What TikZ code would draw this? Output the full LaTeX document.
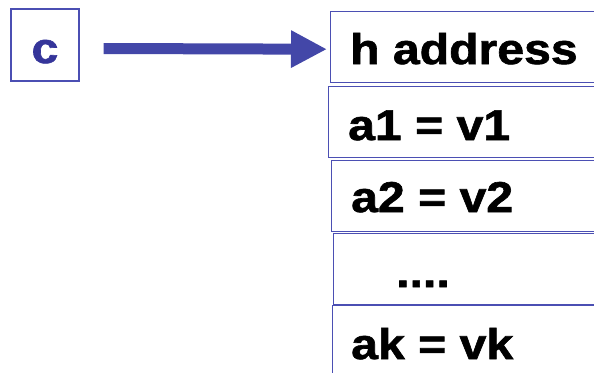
\documentclass[tikz,border=0pt]{standalone}
\usepackage{fontspec}
\usetikzlibrary{arrows.meta}
\newfontfamily\boxfont{Liberation Sans}[FakeStretch=1.12, BoldFeatures={FakeBold=1.5}]
\definecolor{frameblue}{HTML}{4B4FB3}
\definecolor{arrowblue}{HTML}{4347A8}
\definecolor{letterblue}{HTML}{35359A}
\tikzset{
  cell/.style={draw=frameblue, line width=1.4pt, anchor=north west,
    minimum width=320pt, minimum height=71pt, inner sep=0pt},
  entry/.style={anchor=base west, inner sep=0pt, text=black,
    font=\boxfont\bfseries\fontsize{43}{48}\selectfont},
  pointer/.style={draw=frameblue, line width=1.4pt, minimum width=68pt,
    minimum height=72pt, inner sep=0pt, text=letterblue,
    text height=36pt, text depth=0pt,
    font=\boxfont\bfseries\fontsize{43}{48}\selectfont},
  link/.style={draw=arrowblue, line width=11pt,
    -{Triangle[length=36pt, width=35pt]}}
}
\begin{document}
\begin{tikzpicture}[x=1pt, y=-1pt]
  \useasboundingbox (0,0) rectangle (594,372);
  \clip (0,0) rectangle (594,372);

  % the pointer variable
  \node[pointer] (c) at (45,45) {c};

  % the record it points to
  \node[cell] (h)  at (330,11)  {};
  \node[cell] (r1) at (328,86)  {};
  \node[cell] (r2) at (331,160) {};
  \node[cell] (r3) at (333,233) {};
  \node[cell] (rk) at (332,305) {};

  \node[entry] (th)  at (350,64)  {h address};
  \node[entry] (t1)  at (348,140) {a1 = v1};
  \node[entry] (t2)  at (351,212) {a2 = v2};
  \node[entry] (t3)  at (396,287) {....};
  \node[entry] (tk)  at (351,359) {ak = vk};

  % reference arrow
  \draw[link] ([xshift=24pt, yshift=-3.5pt]c.east) -- ([xshift=-3pt, yshift=-2pt]h.west);
\end{tikzpicture}
\end{document}
